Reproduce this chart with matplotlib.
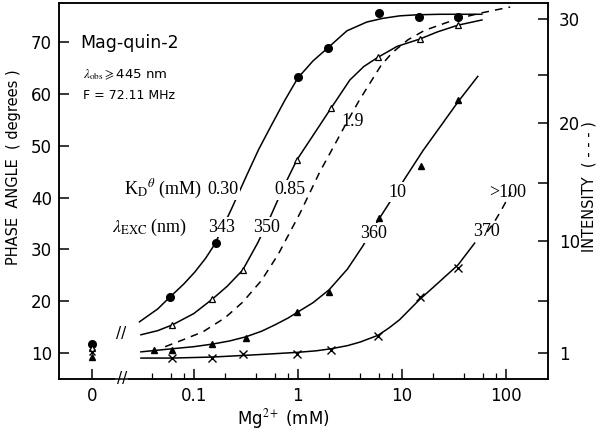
import matplotlib
matplotlib.use("Agg")
import matplotlib.pyplot as plt

# Mg2+ (mM) / phase angle (degrees)
# 343 nm, filled circles
circ_x = [0.059, 0.165, 1.0, 1.94, 6.0, 14.6, 34.6]
circ_y = [20.8, 31.2, 63.3, 68.9, 75.6, 74.9, 74.9]
fit343_x = [0.030, 0.045, 0.059, 0.080, 0.102, 0.130, 0.159, 0.23, 0.324, 0.42, 0.538,
            0.75, 1.0, 1.4, 1.94, 2.96, 4.60, 6.5, 9.57, 14, 23.2, 58.7]
fit343_y = [16.0, 18.5, 20.8, 23.3, 25.6, 28.3, 31.0, 37.8, 44.4, 49.3, 53.4,
            58.8, 63.1, 66.4, 68.9, 72.2, 73.9, 74.6, 75.1, 75.3, 75.4, 75.4]

# 350 nm, open triangles
otri_x = [0.062, 0.151, 0.295, 0.98, 2.09, 5.9, 14.8, 34.7]
otri_y = [15.4, 20.4, 26.0, 47.3, 57.3, 67.1, 70.6, 73.3]
fit350_x = [0.031, 0.045, 0.062, 0.10, 0.151, 0.21, 0.295, 0.41, 0.55, 0.72, 0.98,
            1.51, 2.09, 3.16, 4.3, 5.9, 9.0, 14.8, 22, 34.7, 58.9]
fit350_y = [13.5, 14.3, 15.4, 17.6, 20.4, 22.9, 26.0, 31.2, 36.5, 41.8, 47.3,
            53.0, 57.3, 62.7, 65.3, 67.1, 69.2, 70.6, 72.0, 73.3, 74.3]

# 360 nm, filled triangles
ftri_x = [0.041, 0.062, 0.151, 0.316, 0.98, 2.0, 6.0, 15.2, 34.6]
ftri_y = [10.6, 10.6, 11.7, 12.9, 17.9, 21.8, 36.1, 46.1, 58.8]
fit360_x = [0.031, 0.062, 0.10, 0.151, 0.22, 0.316, 0.45, 0.60, 0.80, 1.0, 1.4, 2.0,
            3.0, 4.2, 6.0, 8.0, 11.2, 16, 23.2, 34.7, 53.7]
fit360_y = [10.2, 10.8, 11.2, 11.7, 12.3, 13.1, 14.2, 15.4, 16.7, 17.9, 19.7, 22.2,
            26.2, 30.6, 35.8, 39.7, 44.3, 49.1, 53.6, 58.5, 63.4]

# 370 nm, crosses
cross_x = [0.062, 0.151, 0.295, 0.98, 2.09, 5.9, 14.8, 34.7]
cross_y = [9.0, 9.0, 9.8, 9.8, 10.6, 13.3, 20.8, 26.4]
fit370_x = [0.031, 0.062, 0.151, 0.295, 0.55, 0.98, 1.5, 2.09, 3.0, 3.98, 5.9, 7.5,
            9.5, 14.8, 22, 34.7, 50.1]
fit370_y = [9.0, 9.0, 9.2, 9.5, 9.8, 10.1, 10.4, 10.8, 11.4, 12.1, 13.4, 14.8,
            16.4, 20.3, 23.4, 27.0, 31.2]

# values at zero Mg2+ (circle, open tri, cross, filled tri)
zero_y = [11.7, 10.9, 10.2, 9.3]

# intensity curves (dashed), drawn on the right-hand scale
intA_x = [0.053, 0.078, 0.123, 0.2, 0.295, 0.447, 0.646, 1.05, 1.62, 2.3, 2.95, 3.9,
          4.9, 6.3, 8.1, 11.5, 16.6, 33.9, 56.2, 110]
intA_y = [11.2, 12.5, 14.1, 16.8, 19.8, 24.0, 29.0, 37.0, 44.9, 50.5, 54.5, 58.8,
          62.0, 65.5, 68.0, 70.5, 72.3, 74.5, 75.6, 76.8]
intB_x = [66.0, 76.0, 90.0, 112.0]
intB_y = [33.4, 35.0, 37.5, 41.0]

# right axis tick positions and labels
int_ticks = [74.5, 63.7, 54.4, 42.8, 31.6, 20.0, 10.0]
int_labels = ['30', '', '20', '', '10', '', '1']

x_ticks = [0.0105, 0.1, 1, 10, 100]
x_labels = ['0', '0.1', '1', '10', '100']
x_minor = [0.04, 0.06, 0.08, 0.2, 0.4, 0.6, 0.8, 2, 4, 6, 8, 20, 40, 60, 80]

plt.rcParams['mathtext.fontset'] = 'stix'
serif = 'Liberation Serif'

fig = plt.figure(figsize=(6, 4.34), dpi=100)
ax = fig.add_axes([0.098, 0.127, 0.815, 0.866])
ax.set_xscale('log')
ax.set_xlim(0.00503, 253)
ax.set_ylim(4.98, 77.57)

lw = 1.1
ax.plot(fit343_x, fit343_y, color='black', lw=lw)
ax.plot(fit350_x, fit350_y, color='black', lw=lw)
ax.plot(fit360_x, fit360_y, color='black', lw=lw)
ax.plot(fit370_x, fit370_y, color='black', lw=lw)

ax.plot(circ_x, circ_y, 'o', color='black', ms=5.5, ls='none')
ax.plot(otri_x, otri_y, '^', mfc='white', mec='black', ms=5, mew=0.9, ls='none')
ax.plot(ftri_x, ftri_y, '^', color='black', ms=5, ls='none')
ax.plot(cross_x, cross_y, 'x', color='black', ms=5.5, mew=1.0, ls='none')

x0 = x_ticks[0]
ax.plot([x0], [zero_y[0]], 'o', color='black', ms=5.5)
ax.plot([x0], [zero_y[1]], '^', mfc='white', mec='black', ms=5, mew=0.9)
ax.plot([x0], [zero_y[2]], 'x', color='black', ms=5, mew=1.0)
ax.plot([x0], [zero_y[3]], '^', color='black', ms=5)

ax2 = ax.twinx()
ax2.set_ylim(ax.get_ylim())
ax2.plot(intA_x, intA_y, color='black', lw=lw, ls=(0, (5, 4)))
ax2.plot(intB_x, intB_y, color='black', lw=lw, ls=(0, (5, 4)))

ax.set_xticks(x_ticks)
ax.set_xticklabels(x_labels)
ax.set_xticks(x_minor, minor=True)
ax.set_yticks([10, 20, 30, 40, 50, 60, 70])
ax.tick_params(axis='both', which='major', direction='in', length=7, width=1.1,
               labelsize=12, pad=5)
ax.tick_params(axis='x', which='minor', direction='in', length=4, width=0.9)
ax.tick_params(axis='x', which='major', pad=6)
ax.tick_params(axis='y', which='minor', left=False)

ax2.set_yticks(int_ticks)
ax2.set_yticklabels(int_labels)
ax2.tick_params(axis='y', direction='in', length=7, width=1.1, labelsize=12, pad=8)

for a in (ax, ax2):
    for s in a.spines.values():
        s.set_linewidth(1.1)

# axis break
ax.text(0.129, 0.0, '//', transform=ax.transAxes, ha='center', va='center',
        fontsize=11, zorder=6, clip_on=False,
        bbox=dict(fc='white', ec='none', pad=1.0))
ax.text(0.127, 0.120, '//', transform=ax.transAxes, ha='center', va='center',
        fontsize=11)

fig.text(0.022, 0.615, 'PHASE  ANGLE  ( degrees )', rotation=90, ha='center', va='center',
         fontsize=10.5)
fig.text(0.982, 0.569, 'INTENSITY  ( - - - )', rotation=90, ha='center', va='center',
         fontsize=10.5)
fig.text(0.472, 0.035, 'Mg$^{2+}$ (mM)', ha='center', va='center', fontsize=12,
         family='DejaVu Sans')

ax.text(0.043, 0.894, 'Mag-quin-2', transform=ax.transAxes, ha='left', va='center',
        fontsize=12.5)
ax.text(0.049, 0.809, r'$\lambda_{\rm obs}\geqslant$445 nm', transform=ax.transAxes,
        ha='left', va='center', fontsize=9.5)
ax.text(0.049, 0.755, 'F = 72.11 MHz', transform=ax.transAxes, ha='left', va='center',
        fontsize=9)

box = dict(fc='white', ec='none', pad=1.0)
labels = [
    (0.213, 0.503, r'K$_{\rm D}$$^{\theta}$ (mM)'),
    (0.186, 0.402, r'$\lambda_{\rm EXC}$ (nm)'),
    (0.335, 0.503, '0.30'),
    (0.472, 0.503, '0.85'),
    (0.601, 0.686, '1.9'),
    (0.693, 0.497, '10'),
    (0.918, 0.497, '>100'),
    (0.333, 0.404, '343'),
    (0.425, 0.404, '350'),
    (0.644, 0.388, '360'),
    (0.875, 0.391, '370'),
]
for lx, ly, txt in labels:
    ax.text(lx, ly, txt, transform=ax.transAxes, ha='center', va='center',
            fontsize=13, family=serif, bbox=box, zorder=5)

fig.savefig('out.png', dpi=100)
